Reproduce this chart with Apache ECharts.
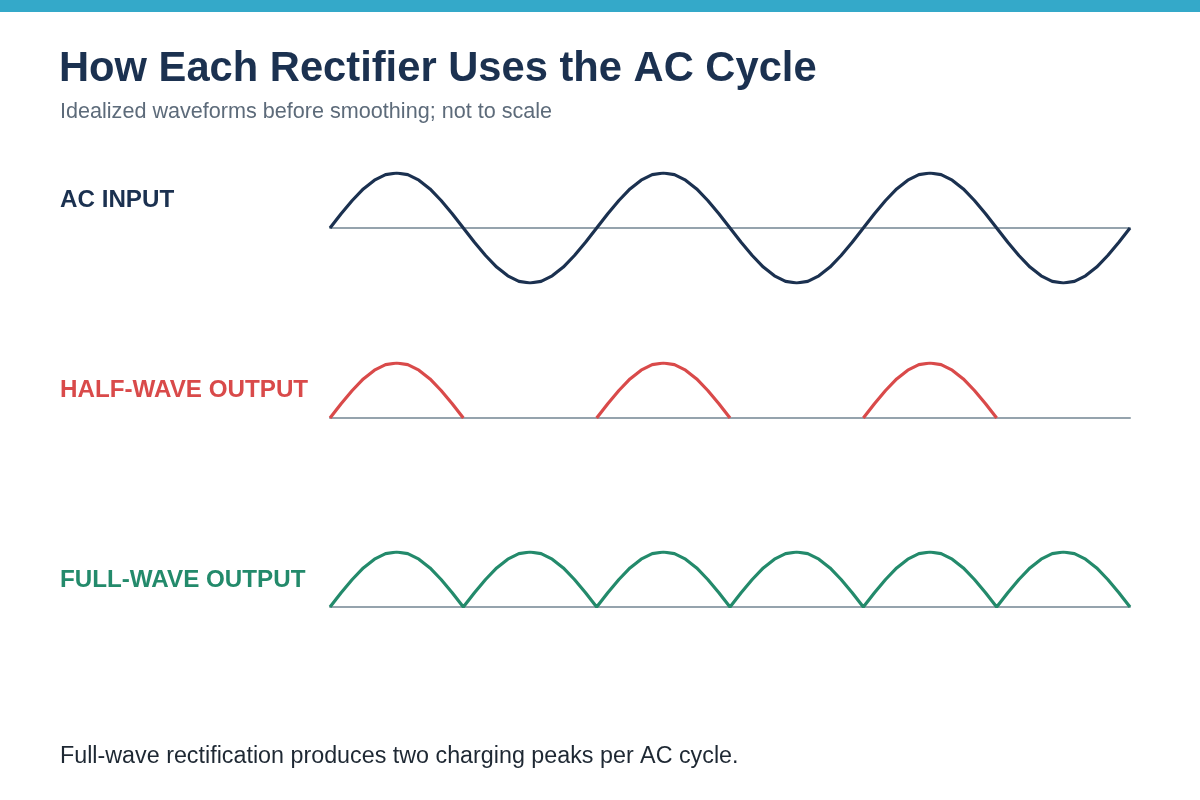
<!DOCTYPE html>
<html lang="en">
<head>
    <meta charset="UTF-8">
    <title>How Each Rectifier Uses the AC Cycle</title>
    <script src="https://cdn.jsdelivr.net/npm/echarts@6/dist/echarts.min.js"></script>
    <style>
        html, body { margin: 0; padding: 0; background: #fff; }
        #chart { width: 1200px; height: 800px; }
    </style>
</head>
<body>
<div id="chart"></div>
<script>
    // phase in degrees, 15 degree steps over three AC cycles
    const phase = [
        0, 15, 30, 45, 60, 75, 90, 105, 120, 135, 150, 165, 180, 195, 210, 225, 240, 255, 270, 285, 300, 315, 330, 345,
        360, 375, 390, 405, 420, 435, 450, 465, 480, 495, 510, 525, 540, 555, 570, 585, 600, 615, 630, 645, 660, 675, 690, 705,
        720, 735, 750, 765, 780, 795, 810, 825, 840, 855, 870, 885, 900, 915, 930, 945, 960, 975, 990, 1005, 1020, 1035, 1050, 1065,
        1080
    ];
    const acInput = [
        0, .26, .5, .71, .87, .97, 1, .97, .87, .71, .5, .26, 0, -.26, -.5, -.71, -.87, -.97, -1, -.97, -.87, -.71, -.5, -.26,
        0, .26, .5, .71, .87, .97, 1, .97, .87, .71, .5, .26, 0, -.26, -.5, -.71, -.87, -.97, -1, -.97, -.87, -.71, -.5, -.26,
        0, .26, .5, .71, .87, .97, 1, .97, .87, .71, .5, .26, 0, -.26, -.5, -.71, -.87, -.97, -1, -.97, -.87, -.71, -.5, -.26,
        0
    ];
    // negative half blocked by the diode: no output drawn there
    const halfWave = [
        0, .26, .5, .71, .87, .97, 1, .97, .87, .71, .5, .26, 0, null, null, null, null, null, null, null, null, null, null, null,
        0, .26, .5, .71, .87, .97, 1, .97, .87, .71, .5, .26, 0, null, null, null, null, null, null, null, null, null, null, null,
        0, .26, .5, .71, .87, .97, 1, .97, .87, .71, .5, .26, 0, null, null, null, null, null, null, null, null, null, null, null,
        0
    ];
    const fullWave = [
        0, .26, .5, .71, .87, .97, 1, .97, .87, .71, .5, .26, 0, .26, .5, .71, .87, .97, 1, .97, .87, .71, .5, .26,
        0, .26, .5, .71, .87, .97, 1, .97, .87, .71, .5, .26, 0, .26, .5, .71, .87, .97, 1, .97, .87, .71, .5, .26,
        0, .26, .5, .71, .87, .97, 1, .97, .87, .71, .5, .26, 0, .26, .5, .71, .87, .97, 1, .97, .87, .71, .5, .26,
        0
    ];
    const rowLabels = ['AC INPUT', 'HALF-WAVE OUTPUT', 'FULL-WAVE OUTPUT'];

    const FONT = '"Liberation Sans", Arial, sans-serif';
    const colors = ['#1b3150', '#d94a4a', '#238a6b'];
    const labelY = [200, 390, 580];

    let myChart = echarts.init(document.getElementById('chart'));

    function xAxisFor(i) {
        return {
            type: 'category', gridIndex: i, data: phase, boundaryGap: false,
            axisLine: { show: true, onZero: true, lineStyle: { color: '#95a3ad', width: 2 } },
            axisTick: { show: false }, axisLabel: { show: false }, splitLine: { show: false }
        };
    }
    function yAxisFor(i, min) {
        return {
            type: 'value', gridIndex: i, min: min, max: 1,
            show: false, splitLine: { show: false }
        };
    }
    function waveSeries(i, data) {
        return {
            type: 'line', xAxisIndex: i, yAxisIndex: i, data: data,
            showSymbol: false, symbol: 'none', connectNulls: false,
            lineStyle: { color: colors[i], width: 3.2 },
            silent: true, animation: false
        };
    }

    let option = {
        animation: false,
        grid: [
            { left: 330, width: 800, top: 173, height: 110 },
            { left: 330, width: 800, top: 363, height: 55 },
            { left: 330, width: 800, top: 552, height: 55 }
        ],
        xAxis: [xAxisFor(0), xAxisFor(1), xAxisFor(2)],
        yAxis: [yAxisFor(0, -1), yAxisFor(1, 0), yAxisFor(2, 0)],
        series: [waveSeries(0, acInput), waveSeries(1, halfWave), waveSeries(2, fullWave)],
        graphic: [
            { type: 'rect', shape: { x: 0, y: 0, width: 1200, height: 12 }, style: { fill: '#34a9c9' } },
            {
                type: 'text', x: 59, y: 70,
                style: { text: 'How Each Rectifier Uses the AC Cycle', font: 'bold 41.7px ' + FONT, fill: '#1b3150',
                    textVerticalAlign: 'middle', verticalAlign: 'middle' }
            },
            {
                type: 'text', x: 60, y: 112,
                style: { text: 'Idealized waveforms before smoothing; not to scale', font: '21.6px ' + FONT, fill: '#5d6b7a',
                    textVerticalAlign: 'middle', verticalAlign: 'middle' }
            },
            {
                type: 'text', x: 60, y: 757,
                style: { text: 'Full-wave rectification produces two charging peaks per AC cycle.', font: '23.3px ' + FONT, fill: '#1e2833',
                    textVerticalAlign: 'middle', verticalAlign: 'middle' }
            }
        ].concat(rowLabels.map(function (t, i) {
            return {
                type: 'text', x: 60, y: labelY[i],
                style: { text: t, font: 'bold 24.2px ' + FONT, fill: colors[i],
                    textVerticalAlign: 'middle', verticalAlign: 'middle' }
            };
        }))
    };
    myChart.setOption(option);
</script>
</body>
</html>
